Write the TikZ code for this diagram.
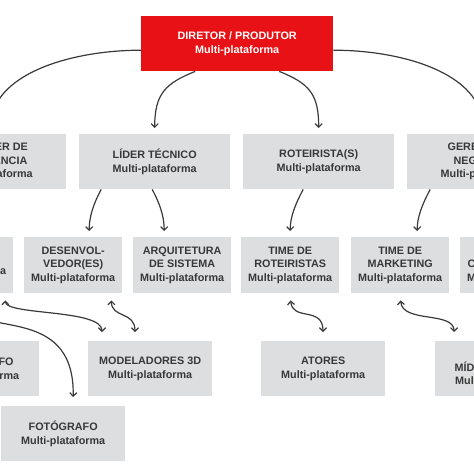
\documentclass[tikz,border=0pt]{standalone}
\usepackage{fontspec}
\setmainfont{Liberation Sans}
\usepackage{tikz}
\usetikzlibrary{arrows.meta}

\definecolor{cinza}{RGB}{220,222,223}
\definecolor{vermelho}{RGB}{232,18,22}
\definecolor{texto}{RGB}{56,56,56}
\definecolor{linha}{RGB}{58,58,58}

\tikzset{
	caixa/.style={fill=cinza, anchor=north west, inner sep=0pt, align=center, text=texto, font=\fontsize{10.8}{13.5}\selectfont\bfseries},
	chefe/.style={caixa, fill=vermelho, text=white, minimum width=192pt, minimum height=55pt},
	nivel2/.style={caixa, minimum width=151pt, minimum height=55pt},
	nivel3/.style={caixa, minimum width=98pt, minimum height=56pt},
	nivel4/.style={caixa, minimum width=124pt, minimum height=55pt},
	seta/.style={draw=linha, line width=1.2pt, -{Straight Barb[length=3.5pt,width=7pt]}, shorten >=6pt},
	dupla/.style={draw=linha, line width=1.2pt, {Straight Barb[length=3.5pt,width=7pt]}-{Straight Barb[length=3.5pt,width=7pt]}, shorten <=7pt, shorten >=9pt}
}

\begin{document}
\begin{tikzpicture}[x=1pt,y=-1pt]
	\useasboundingbox (0,0) rectangle (474,474);
	\clip (0,0) rectangle (474,474);
	\fill[white] (0,0) rectangle (474,474);
	\node[chefe] (dir) at (141,16) {DIRETOR / PRODUTOR\\Multi-plataforma};
	\node[nivel2] (exp) at (-85,134) {DESIGNER DE\\EXPERIÊNCIA\\Multi-plataforma};
	\node[nivel2] (lider) at (79,134) {LÍDER TÉCNICO\\Multi-plataforma};
	\node[nivel2] (rot) at (243,134) {ROTEIRISTA(S)\\Multi-plataforma};
	\node[nivel2] (ger) at (407,134) {GERENTE DE\\NEGÓCIOS\\Multi-plataforma};
	\node[nivel3] (b) at (-85,237) {DESIGNER\\Multi-plataforma};
	\node[nivel3] (des) at (24,237) {DESENVOL-\\VEDOR(ES)\\Multi-plataforma};
	\node[nivel3] (arq) at (133,237) {ARQUITETURA\\DE SISTEMA\\Multi-plataforma};
	\node[nivel3] (trot) at (241,237) {TIME DE\\ROTEIRISTAS\\Multi-plataforma};
	\node[nivel3] (tmkt) at (351,237) {TIME DE\\MARKETING\\Multi-plataforma};
	\node[nivel3] (tcom) at (460,237) {TIME DE\\COMUNICAÇÃO\\Multi-plataforma};
	\node[nivel4] (vid) at (-85,341) {VIDEÓGRAFO\\Multi-plataforma};
	\node[nivel4] (mod) at (88,341) {MODELADORES 3D\\Multi-plataforma};
	\node[nivel4] (ato) at (261,341) {ATORES\\Multi-plataforma};
	\node[nivel4] (mid) at (435,341) {EQUIPE\\MÍDIAS SOCIAIS\\Multi-plataforma};
	\node[nivel4] (fot) at (1,406) {FOTÓGRAFO\\Multi-plataforma};
	\draw[seta] ([yshift=-6.5pt]dir.west) .. controls +(-70,0) and +(0,-60) .. (exp.north);
	\draw[seta] ([xshift=-42pt]dir.south) .. controls +(-30,12) and +(0,-40) .. (lider.north);
	\draw[seta] ([xshift=42pt]dir.south) .. controls +(30,12) and +(0,-40) .. (rot.north);
	\draw[seta] ([yshift=-6.5pt]dir.east) .. controls +(70,0) and +(0,-60) .. (ger.north);
	\draw[seta] ([xshift=-53.5pt]lider.south) .. controls +(-8,15) and +(0,-20) .. ([xshift=16pt]des.north);
	\draw[seta] ([xshift=-2.5pt]lider.south) .. controls +(8,15) and +(0,-20) .. ([xshift=-18pt]arq.north);
	\draw[seta] ([xshift=-15.5pt]rot.south) .. controls +(-8,15) and +(0,-20) .. (trot.north);
	\draw[seta] ([xshift=-52.5pt]ger.south) .. controls +(-8,15) and +(0,-20) .. ([xshift=17pt]tmkt.north);
	\draw[dupla] ([xshift=-8pt]b.south east) .. controls +(0,22) and +(0,-32) .. ([xshift=14pt]mod.north west);
	\draw[dupla] ([xshift=-11pt]des.south east) .. controls +(0,25) and +(0,-30) .. ([xshift=47pt]mod.north west);
	\draw[dupla] ([xshift=-48pt]b.south east) .. controls +(5,47) and +(2,-106) .. ([xshift=72pt]fot.north west);
	\draw[dupla] (trot.south) .. controls +(2,28) and +(0,-35) .. ([xshift=62pt]ato.north west);
	\draw[dupla] (tmkt.south) .. controls +(2,30) and +(0,-30) .. ([xshift=19pt]mid.north west);
\end{tikzpicture}
\end{document}
